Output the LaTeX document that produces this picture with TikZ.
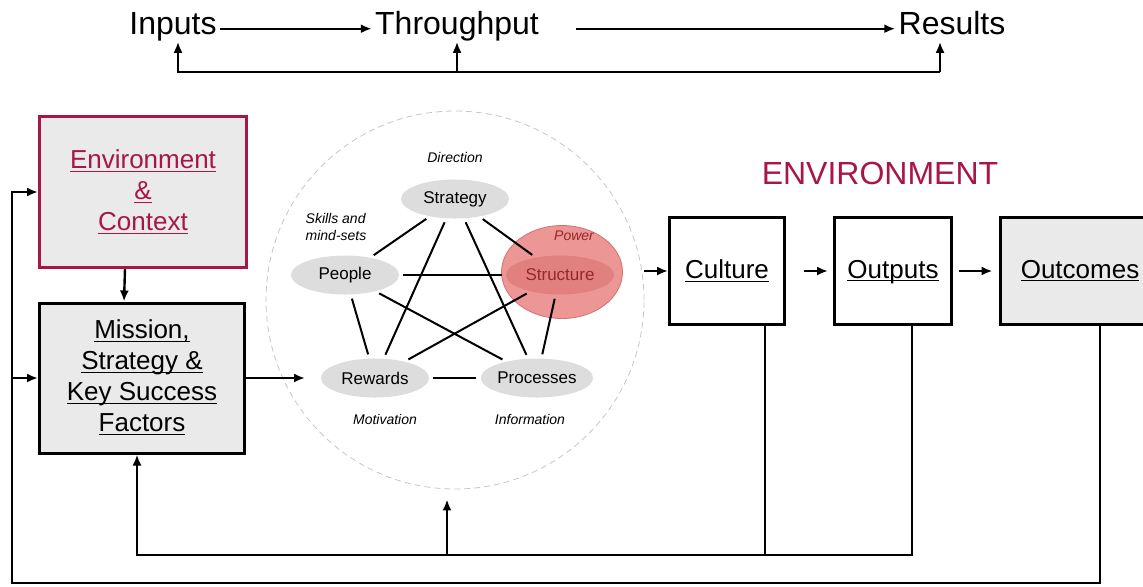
\documentclass[tikz,border=0pt]{standalone}
\usepackage{fontspec}
\setmainfont{Liberation Sans}
\usepackage{tikz}
\usetikzlibrary{arrows.meta, positioning, shapes.geometric}
\usepackage{xcolor}
\definecolor{Crimson}{RGB}{168, 22, 72}
\definecolor{BoxGray}{RGB}{234, 234, 234}
\definecolor{OvalGray}{RGB}{221, 221, 221}
\definecolor{PowerPink}{RGB}{236, 150, 150}
\definecolor{PowerEdge}{RGB}{214, 112, 112}
\definecolor{StructPink}{RGB}{226, 128, 128}
\definecolor{StructText}{RGB}{150, 40, 40}
\newcommand{\ulabel}[1]{\underline{\raisebox{0pt}[\height][0pt]{#1}}}
\tikzset{%
  block/.style={%
    rectangle,%
    draw=black,%
    line width=1.5pt,%
    minimum width=57.5pt,%
    minimum height=53.5pt,%
    font={\fontsize{13}{15.5}\selectfont},%
    align=center%
  },
  ctxblock/.style={%
    block,%
    draw=Crimson,%
    text=Crimson,%
    fill=BoxGray,%
    minimum width=103.5pt,%
    minimum height=75.5pt%
  },
  flow/.style={%
    font={\fontsize{16}{18}\selectfont},%
    anchor=base,%
    text height=0.75em,%
    text depth=0.22em,%
    inner sep=1.5pt%
  },
  oval/.style={%
    ellipse,%
    fill=OvalGray,%
    minimum width=54pt,%
    minimum height=19.5pt,%
    inner sep=0pt,%
    font={\fontsize{8.5}{10}\selectfont}%
  },
  annotate/.style={%
    font={\itshape\fontsize{7}{8.5}\selectfont},%
    align=left%
  },
  signal/.style={%
    color=black,%
    line width=1.2pt,%
    line join=miter%
  },
  link/.style={%
    line width=1pt,%
    shorten <=2pt,%
    shorten >=2pt%
  },
  arrow/.style={-{Latex[length=5.5pt, width=4.5pt]}},
}

\begin{document}
\begin{tikzpicture}[x=0.5pt, y=-0.5pt]
  \useasboundingbox (0,0) rectangle (1143,586);

  % top line
  \node[flow] (inputs) at (173,34) {Inputs};
  \node[flow] (through) at (457,34) {Throughput};
  \node[flow] (results) at (952,34) {Results};
  \coordinate (busL) at (178,72);
  \coordinate (busR) at (940,72);

  \draw[signal, arrow] (inputs.east) -- (through.west);
  \draw[signal, arrow, shorten <=17pt] (through.east) -- (results.west);
  \draw[signal, arrow] (busR) -- (busL) -- (busL |- inputs.south);
  \draw[signal, arrow] (busR) -- (busR |- results.south);
  \draw[signal, arrow] (through.south |- busL) -- (through.south);

  % left blocks
  \node[ctxblock] (ctx) at (143,192) {\ulabel{Environment}\\\ulabel{\&}\\\ulabel{Context}};
  \node[block, fill=BoxGray, minimum width=102.5pt, minimum height=75pt] (mission) at (142,378)
    {\ulabel{Mission,}\\\ulabel{Strategy \&}\\\ulabel{Key Success}\\\ulabel{Factors}};

  % organisation circle
  \node[circle, draw=gray!45, dash pattern=on 3pt off 2pt, minimum size=189pt] (org) at (455,300) {};
  \node[ellipse, fill=PowerPink, draw=PowerEdge, minimum width=60.5pt, minimum height=46.5pt] (power) at (562,272) {};
  \node[oval] (strategy) at (455,199) {Strategy};
  \node[oval] (people) at (345,275) {People};
  \node[oval, fill=StructPink, text=StructText] (structure) at (560,275) {Structure};
  \node[oval] (rewards) at (375,378) {Rewards};
  \node[oval] (processes) at (537,378) {Processes};

  \node[annotate] (direction) at (455,157) {Direction};
  \node[annotate] (skills) at (336,227) {Skills and\\mind-sets};
  \node[annotate, text=StructText] (powerlbl) at (574,236) {Power};
  \node[annotate] (motivation) at (385,419) {Motivation};
  \node[annotate] (information) at (530,419) {Information};

  \foreach \a/\b in {strategy/people, strategy/rewards, strategy/processes, strategy/structure,
                     people/structure, people/rewards, people/processes,
                     rewards/structure, rewards/processes, structure/processes}
    \draw[link] (\a) -- (\b);

  % right blocks
  \node[flow, text=Crimson] (envtitle) at (880,184) {ENVIRONMENT};
  \node[block] (culture) at (727,271) {\ulabel{Culture}};
  \node[block, minimum width=58.5pt] (outputs) at (893,271) {\ulabel{Outputs}};
  \node[block, fill=BoxGray, minimum width=80pt] (outcomes) at (1080,271) {\ulabel{Outcomes}};

  \coordinate (orgin) at (305,378);
  \coordinate (inner) at (447,555);
  \coordinate (outer) at (12,583);

  \draw[signal, arrow] ([xshift=-9pt]ctx.south) -- ([xshift=-9pt]mission.north);
  \draw[signal, arrow] (mission.east |- orgin) -- (orgin);
  \draw[signal, arrow] (culture.west -| org.east) -- (culture.west);
  \draw[signal, arrow, shorten <=9pt, shorten >=2.5pt] (culture.east) -- (outputs.west);
  \draw[signal, arrow, shorten <=3pt, shorten >=3pt] (outputs.east) -- (outcomes.west);

  % feedback loops
  \draw[signal, arrow] ([xshift=9.5pt]outputs.south) |- (inner) -| ([xshift=-2.5pt]mission.south);
  \draw[signal] ([xshift=19pt]culture.south) |- (inner);
  \draw[signal, arrow, shorten >=5pt] (inner) -- (inner |- org.south);
  \draw[signal, arrow] ([xshift=10pt]outcomes.south) |- (outer) |- (ctx.west);
  \draw[signal, arrow] (outer |- mission.west) -- (mission.west);

\end{tikzpicture}
\end{document}
